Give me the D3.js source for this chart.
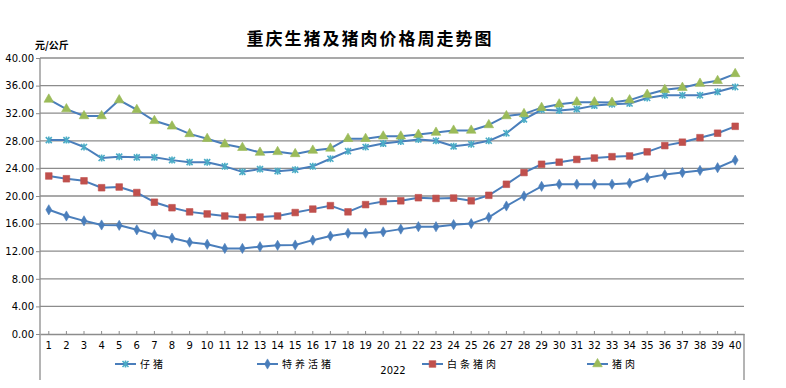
<!DOCTYPE html>
<html>
<head>
<meta charset="utf-8">
<script src="https://cdn.jsdelivr.net/npm/d3@7"></script>
<style>
  body { margin: 0; background: #fff; }
  svg { display: block; }
  .tick text { font-family: "DejaVu Sans", sans-serif; font-size: 10px; fill: #000; }
</style>
</head>
<body>
<div id="chart"></div>
<script>
// weeks 1..40 of 2022
var weeks = d3.range(1, 41);
var seriesNames = ["仔猪", "特养活猪", "白条猪肉", "猪肉"];
var yTicks = [0, 4, 8, 12, 16, 20, 24, 28, 32, 36, 40];

var piglet = [28.1, 28.1, 27.1, 25.5, 25.7, 25.6, 25.6, 25.2, 24.9, 24.9,
              24.3, 23.5, 23.9, 23.6, 23.8, 24.3, 25.4, 26.5, 27.1, 27.6,
              27.9, 28.2, 28.0, 27.2, 27.5, 28.0, 29.1, 31.1, 32.5, 32.4,
              32.6, 33.1, 33.3, 33.4, 34.2, 34.6, 34.6, 34.6, 35.1, 35.8];
var livePig = [18.0, 17.1, 16.4, 15.8, 15.75, 15.1, 14.4, 13.9, 13.3, 13.0,
               12.4, 12.4, 12.65, 12.85, 12.9, 13.6, 14.2, 14.6, 14.6, 14.8,
               15.2, 15.55, 15.55, 15.85, 16.0, 16.9, 18.55, 20.0, 21.4, 21.7,
               21.7, 21.7, 21.7, 21.85, 22.65, 23.1, 23.4, 23.7, 24.1, 25.2];
var carcass = [22.9, 22.5, 22.2, 21.2, 21.3, 20.5, 19.1, 18.3, 17.7, 17.4,
               17.1, 16.9, 16.95, 17.1, 17.6, 18.1, 18.6, 17.7, 18.75, 19.2,
               19.3, 19.75, 19.65, 19.7, 19.3, 20.1, 21.7, 23.4, 24.6, 24.9,
               25.3, 25.5, 25.7, 25.8, 26.4, 27.3, 27.8, 28.45, 29.1, 30.1];
var pork = [34.0, 32.6, 31.6, 31.6, 33.9, 32.5, 30.9, 30.1, 29.0, 28.3,
            27.5, 27.0, 26.3, 26.4, 26.1, 26.6, 26.9, 28.3, 28.3, 28.65,
            28.65, 28.9, 29.2, 29.5, 29.5, 30.3, 31.6, 31.9, 32.8, 33.3,
            33.6, 33.6, 33.55, 33.9, 34.7, 35.4, 35.7, 36.3, 36.7, 37.7];

var allValues = [piglet, livePig, carcass, pork];
var markerFill = ["#4bacc6", "#4a7ebb", "#c0504d", "#9bbb59"];
var markerType = ["star", "diamond", "square", "triangle"];

var W = 786, H = 388;
var margin = {top: 58, right: 42, bottom: 54, left: 40};
var width = W - margin.left - margin.right,
    height = H - margin.top - margin.bottom;

var svg = d3.select("#chart").append("svg")
    .attr("width", W).attr("height", H);

// title + unit
svg.append("text")
    .attr("x", 370).attr("y", 45)
    .attr("text-anchor", "middle")
    .style("font-family", "'Noto Sans CJK SC', sans-serif")
    .style("font-size", "17px").style("font-weight", "bold")
    .style("letter-spacing", "2px")
    .text("重庆生猪及猪肉价格周走势图");
svg.append("text")
    .attr("x", 35).attr("y", 49)
    .style("font-family", "'Noto Sans CJK SC', sans-serif")
    .style("font-size", "10px").style("font-weight", "bold")
    .text("元/公斤");

var g = svg.append("g")
    .attr("transform", "translate(" + margin.left + "," + margin.top + ")");

var x = d3.scaleBand().domain(weeks).range([0, width]);
var y = d3.scaleLinear().domain([0, 40]).range([height, 0]);

// grid
g.append("g").selectAll("line").data(yTicks.slice(1)).join("line")
    .attr("x1", 0).attr("x2", width)
    .attr("y1", d => y(d)).attr("y2", d => y(d))
    .attr("stroke", "#8c8c8c").attr("stroke-width", 1.3);

// y axis
var yAxis = g.append("g")
    .call(d3.axisLeft(y).tickValues(yTicks).tickFormat(d3.format(".2f")).tickSize(4).tickPadding(2));
yAxis.select(".domain").remove();
yAxis.selectAll(".tick line").attr("stroke", "#8c8c8c");
g.append("line").attr("x1", 0).attr("x2", 0).attr("y1", 0).attr("y2", H - margin.top - 8)
    .attr("stroke", "#8c8c8c").attr("stroke-width", 1.3);
g.append("line").attr("x1", width).attr("x2", width).attr("y1", height).attr("y2", H - margin.top - 8)
    .attr("stroke", "#8c8c8c").attr("stroke-width", 1.3);

// x axis
var xAxis = g.append("g")
    .attr("transform", "translate(0," + height + ")")
    .call(d3.axisBottom(x).tickSizeInner(-3).tickSizeOuter(0).tickPadding(8));
xAxis.select(".domain").attr("stroke", "#8c8c8c").attr("stroke-width", 1.3);
xAxis.selectAll(".tick line").attr("stroke", "#8c8c8c");

svg.append("text")
    .attr("x", 393).attr("y", 374)
    .attr("text-anchor", "middle")
    .style("font-family", "'DejaVu Sans', sans-serif")
    .style("font-size", "10px")
    .text("2022");

function markerPath(type) {
  if (type === "star") return "M-3,-3L3,3M-3,3L3,-3M0,-3.5L0,3.5";
  if (type === "diamond") return d3.symbol(d3.symbolDiamond, 30)();
  if (type === "square") return d3.symbol(d3.symbolSquare, 44)();
  return d3.symbol(d3.symbolTriangle, 40)();
}

function drawMarker(sel, i) {
  var p = sel.append("path").attr("d", markerPath(markerType[i]));
  if (markerType[i] === "star") {
    p.attr("fill", "none").attr("stroke", markerFill[i]).attr("stroke-width", 1.6);
  } else {
    p.attr("fill", markerFill[i]).attr("stroke", markerFill[i]).attr("stroke-width", 0.6);
  }
}

var line = d3.line()
    .x((d, i) => x(weeks[i]) + x.bandwidth() / 2)
    .y(d => y(d));

allValues.forEach(function(vals, i) {
  g.append("path").datum(vals)
      .attr("fill", "none")
      .attr("stroke", "#4a7ebb").attr("stroke-width", 2)
      .attr("stroke-linejoin", "round")
      .attr("d", line);
  g.append("g").selectAll("g").data(vals).join("g")
      .attr("transform", (d, j) => "translate(" + (x(weeks[j]) + x.bandwidth() / 2) + "," + y(d) + ")")
      .each(function() { drawMarker(d3.select(this), i); });
});

// legend
var legendX = [115, 257, 422, 587];
seriesNames.forEach(function(name, i) {
  var lg = svg.append("g").attr("transform", "translate(" + legendX[i] + ",364)");
  lg.append("line").attr("x1", 0).attr("x2", 21).attr("y1", 0).attr("y2", 0)
      .attr("stroke", "#4a7ebb").attr("stroke-width", 2);
  drawMarker(lg.append("g").attr("transform", "translate(10.5,0)"), i);
  lg.append("text").attr("x", 25).attr("y", 4)
      .style("font-family", "'Noto Sans CJK SC', sans-serif")
      .style("font-size", "10px").style("letter-spacing", "3px")
      .text(name);
});
</script>
</body>
</html>
